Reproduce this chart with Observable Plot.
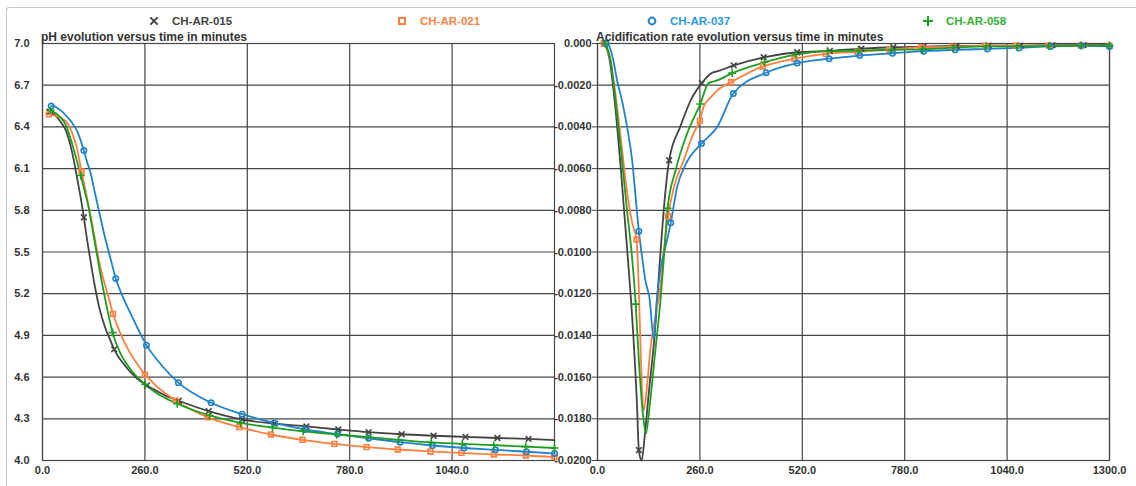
<!DOCTYPE html>
<html>
<head>
<meta charset="utf-8">
<script src="https://cdn.jsdelivr.net/npm/d3@7"></script>
<script src="https://cdn.jsdelivr.net/npm/@observablehq/plot@0.6"></script>
<style>
  body { margin: 0; background: #fff; }
  #wrap { position: relative; width: 1136px; height: 486px; overflow: hidden; font-family: "Liberation Sans", Arial, sans-serif; }
  #border { position: absolute; left: 6px; top: 7px; width: 1200px; height: 600px; border-top: 1px solid #c8c8c8; border-left: 1px solid #c8c8c8; border-top-left-radius: 3px; }
  .title { position: absolute; font-weight: bold; font-size: 12px; color: #333; white-space: nowrap; line-height: 12px; }
  .leg { position: absolute; top: 15px; font-weight: bold; font-size: 11.5px; line-height: 12px; white-space: nowrap; display: flex; align-items: center; }
  .leg svg { margin-right: 12px; }
  .panel { position: absolute; top: 0; }
</style>
</head>
<body>
<div id="wrap">
  <div id="border"></div>
</div>
<script>
// ---------- names, colours, symbols ----------
const seriesNames = ["CH-AR-015", "CH-AR-021", "CH-AR-037", "CH-AR-058"];
const lineColors = ["#444444", "#ff7f3f", "#1f82cc", "#1e9e1e"];
const legendTextColors = ["#444444", "#ff8244", "#2a98e0", "#36b036"];
const seriesSymbols = ["times", "square", "circle", "plus"];
const legendX = [148, 396, 646, 922];

// ---------- axis ticks ----------
const xTicksLeft = [0, 260, 520, 780, 1040];
const xTicksRight = [0, 260, 520, 780, 1040, 1300];
const phTicks = [4.0, 4.3, 4.6, 4.9, 5.2, 5.5, 5.8, 6.1, 6.4, 6.7, 7.0];
const rateTicks = [0, -0.002, -0.004, -0.006, -0.008, -0.010, -0.012, -0.014, -0.016, -0.018, -0.020];

// ---------- CH-AR-015 ----------
const t015 = [18, 30, 45, 60, 75, 90, 100, 105, 112, 120, 130, 145, 160, 170, 182, 210, 240, 265, 290, 310, 346, 422, 507, 590, 670, 751, 828, 912, 993, 1074, 1155, 1234, 1300];
const ph015 = [6.51, 6.49, 6.44, 6.37, 6.22, 6.00, 5.84, 5.75, 5.61, 5.47, 5.30, 5.09, 4.95, 4.88, 4.80, 4.68, 4.59, 4.54, 4.50, 4.47, 4.43, 4.355, 4.295, 4.265, 4.245, 4.223, 4.204, 4.189, 4.178, 4.17, 4.162, 4.155, 4.146];
const rate015 = [0, -0.0007, -0.0030, -0.0062, -0.0098, -0.0137, -0.0172, -0.0195, -0.0200, -0.0188, -0.0168, -0.0140, -0.0100, -0.0076, -0.0056, -0.0040, -0.0026, -0.0019, -0.00142, -0.0013, -0.00105, -0.00066, -0.00042, -0.00035, -0.00025, -0.00018, -0.00015, -0.00012, -0.0001, -0.0001, -0.00008, -0.00008, -0.00007];
const mk015 = [18, 105, 182, 265, 346, 422, 507, 590, 670, 751, 828, 912, 993, 1074, 1155, 1234];

// ---------- CH-AR-021 ----------
const t021 = [16, 33, 50, 63, 75, 88, 99, 105, 110, 117, 125, 134, 147, 160, 168, 179, 194, 219, 244, 260, 270, 287, 304, 339, 420, 500, 580, 660, 741, 823, 902, 985, 1064, 1146, 1227, 1300];
const ph021 = [6.49, 6.48, 6.46, 6.43, 6.36, 6.24, 6.08, 6.00, 5.93, 5.83, 5.72, 5.58, 5.39, 5.25, 5.17, 5.055, 4.94, 4.79, 4.68, 4.617, 4.59, 4.54, 4.50, 4.43, 4.31, 4.24, 4.187, 4.149, 4.12, 4.096, 4.079, 4.065, 4.055, 4.043, 4.036, 4.024];
const rate021 = [0, -0.0008, -0.0031, -0.0052, -0.0071, -0.0086, -0.0094, -0.0118, -0.0150, -0.0176, -0.0166, -0.0147, -0.0131, -0.0116, -0.0100, -0.0083, -0.0069, -0.0056, -0.0043, -0.0037, -0.0030, -0.0026, -0.00225, -0.00186, -0.0011, -0.00073, -0.0005, -0.0004, -0.0003, -0.00018, -0.00015, -0.0001, -0.0001, -0.0001, -0.0001, -0.0001];
const mk021 = [16, 99, 179, 260, 339, 420, 500, 580, 660, 741, 823, 902, 985, 1064, 1146, 1227, 1300];

// ---------- CH-AR-037 ----------
const t037 = [22, 29, 40, 50, 63, 75, 88, 96, 105, 113, 122, 132, 143, 150, 160, 172, 186, 202, 224, 264, 304, 345, 428, 507, 588, 666, 749, 828, 908, 990, 1070, 1150, 1229, 1300];
const ph037 = [6.55, 6.55, 6.53, 6.51, 6.47, 6.43, 6.37, 6.31, 6.23, 6.15, 6.07, 5.94, 5.80, 5.71, 5.59, 5.46, 5.31, 5.19, 5.055, 4.83, 4.68, 4.56, 4.415, 4.333, 4.27, 4.223, 4.19, 4.16, 4.132, 4.108, 4.09, 4.077, 4.063, 4.05];
const rate037 = [0, -0.0001, -0.0008, -0.0018, -0.0028, -0.0040, -0.0056, -0.0072, -0.0090, -0.0102, -0.0114, -0.0122, -0.0142, -0.0124, -0.0108, -0.0098, -0.0086, -0.0069, -0.0058, -0.0048, -0.0040, -0.0024, -0.0014, -0.00094, -0.00073, -0.00058, -0.00047, -0.00037, -0.0003, -0.00026, -0.00021, -0.00014, -0.0001, -0.00014];
const mk037 = [22, 105, 186, 264, 345, 428, 507, 588, 666, 749, 828, 908, 990, 1070, 1150, 1229, 1300];

// ---------- CH-AR-058 ----------
const t058 = [20, 33, 45, 60, 75, 86, 97, 105, 115, 123, 134, 147, 160, 168, 178, 198, 228, 261, 282, 304, 342, 424, 503, 584, 662, 747, 826, 904, 987, 1066, 1146, 1227, 1300];
const ph058 = [6.52, 6.50, 6.47, 6.41, 6.28, 6.17, 6.05, 5.96, 5.85, 5.73, 5.55, 5.34, 5.15, 5.04, 4.92, 4.77, 4.64, 4.547, 4.50, 4.46, 4.408, 4.324, 4.27, 4.237, 4.21, 4.187, 4.168, 4.149, 4.13, 4.12, 4.11, 4.10, 4.09];
const rate058 = [0, -0.0008, -0.0026, -0.0052, -0.0080, -0.0099, -0.0125, -0.0152, -0.0177, -0.0187, -0.0171, -0.0147, -0.0123, -0.0104, -0.0079, -0.0061, -0.0043, -0.0029, -0.0019, -0.00177, -0.00142, -0.0009, -0.00053, -0.00037, -0.00034, -0.0003, -0.00028, -0.0002, -0.00014, -0.00014, -0.00012, -0.0001, -0.0001];
const mk058 = [20, 97, 178, 261, 342, 424, 503, 584, 662, 747, 826, 904, 987, 1066, 1146, 1227, 1300];

// ---------- build table ----------
function rows(name, t, ph, rate, mk) {
  return t.map((d, i) => ({ series: name, t: d, ph: ph[i], rate: rate[i], marker: mk.includes(d) }));
}
const data = [
  ...rows(seriesNames[0], t015, ph015, rate015, mk015),
  ...rows(seriesNames[1], t021, ph021, rate021, mk021),
  ...rows(seriesNames[2], t037, ph037, rate037, mk037),
  ...rows(seriesNames[3], t058, ph058, rate058, mk058)
];
const markerData = data.filter(d => d.marker);

const gridColor = "#464646";
const fmt1 = d3.format(".1f");

function panel({ yField, yDomain, yTicks, yFormat, xTicks, width, marginLeft, marginRight, yTickSize, yTickPadding }) {
  return Plot.plot({
    width, height: 486,
    marginLeft, marginRight, marginTop: 43, marginBottom: 26,
    style: { fontFamily: "'Liberation Sans', Arial, sans-serif", fontSize: "11px", fontWeight: "bold", color: "#333", background: "transparent", overflow: "visible" },
    x: { domain: [0, 1300] },
    y: { domain: yDomain },
    color: { domain: seriesNames, range: lineColors },
    symbol: { domain: seriesNames, range: seriesSymbols },
    marks: [
      Plot.gridX(xTicks, { stroke: gridColor, strokeOpacity: 1, strokeWidth: 1.2 }),
      Plot.gridY(yTicks, { stroke: gridColor, strokeOpacity: 1, strokeWidth: 1.2 }),
      Plot.frame({ stroke: gridColor, strokeWidth: 1.2 }),
      Plot.axisX({ ticks: xTicks, tickSize: 0, tickPadding: 6, tickFormat: fmt1, label: null }),
      Plot.axisY({ ticks: yTicks, tickSize: yTickSize, tickPadding: yTickPadding, tickFormat: yFormat, label: null, stroke: gridColor }),
      Plot.line(data, { x: "t", y: yField, z: "series", stroke: "series", strokeWidth: 1.8, curve: "monotone-x" }),
      Plot.dot(markerData, { x: "t", y: yField, stroke: "series", symbol: "series", fill: "none", r: 2.7, strokeWidth: 1.6 })
    ]
  });
}

const wrap = document.getElementById("wrap");

const left = panel({
  yField: "ph", yDomain: [4, 7], yTicks: phTicks, yFormat: fmt1, xTicks: xTicksLeft,
  width: 570, marginLeft: 42, marginRight: 16, yTickSize: 0, yTickPadding: 13
});
left.classList.add("panel");
left.style.left = "0px";
wrap.appendChild(left);

const right = panel({
  yField: "rate", yDomain: [-0.02, 0], yTicks: rateTicks,
  yFormat: d => (Math.abs(d) < 1e-12 ? "0.000" : d.toFixed(4)),
  xTicks: xTicksRight,
  width: 581, marginLeft: 42, marginRight: 27, yTickSize: 5, yTickPadding: 1
});
right.classList.add("panel");
right.style.left = "555px";
wrap.appendChild(right);

// titles
const t1 = document.createElement("div");
t1.className = "title"; t1.textContent = "pH evolution versus time in minutes";
t1.style.left = "41px"; t1.style.top = "31px";
wrap.appendChild(t1);
const t2 = document.createElement("div");
t2.className = "title"; t2.textContent = "Acidification rate evolution versus time in minutes";
t2.style.left = "596px"; t2.style.top = "31px";
wrap.appendChild(t2);

// legend
const symbolMap = { times: d3.symbolTimes, square: d3.symbolSquare, circle: d3.symbolCircle, plus: d3.symbolPlus };
seriesNames.forEach((name, i) => {
  const item = document.createElement("div");
  item.className = "leg";
  item.style.left = legendX[i] + "px";
  item.style.color = legendTextColors[i];
  const path = d3.symbol(symbolMap[seriesSymbols[i]], 36)();
  item.innerHTML = `<svg width="12" height="12" viewBox="-6 -6 12 12"><path d="${path}" fill="none" stroke="${lineColors[i]}" stroke-width="2"/></svg>`;
  const span = document.createElement("span");
  span.textContent = name;
  item.appendChild(span);
  wrap.appendChild(item);
});
</script>
</body>
</html>
